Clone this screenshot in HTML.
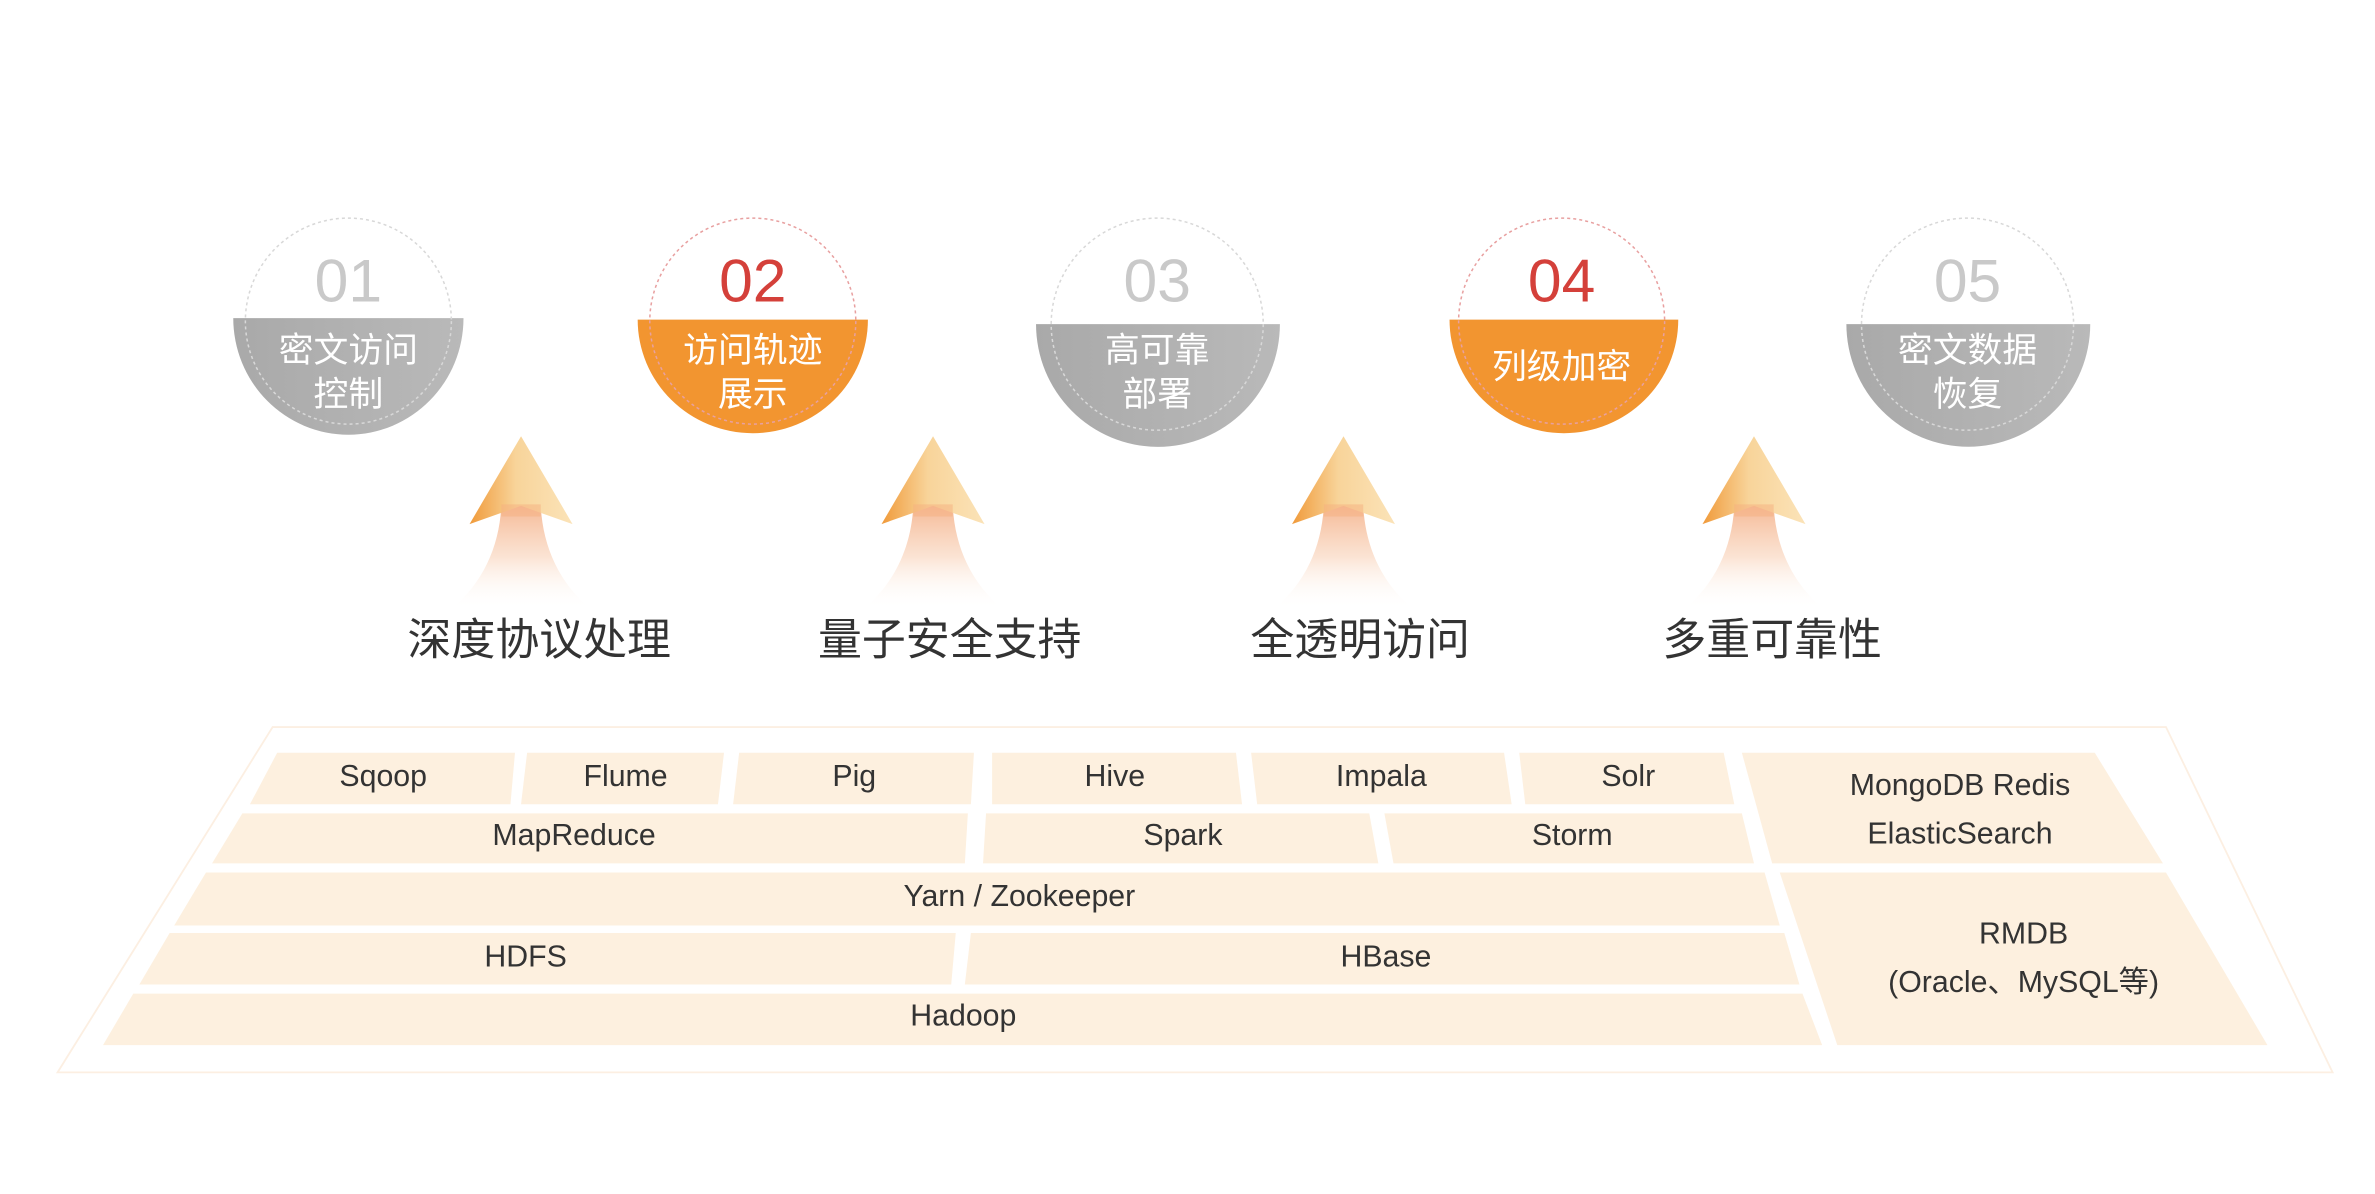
<!DOCTYPE html>
<html><head><meta charset="utf-8"><style>
html,body{margin:0;padding:0;background:#fff;}
svg{display:block;}
text{font-family:"Liberation Sans","Noto Sans CJK SC",sans-serif;}
</style></head><body>
<svg width="2375" height="1194" viewBox="0 0 1568 788.3" preserveAspectRatio="none" xmlns="http://www.w3.org/2000/svg">
<defs>
<linearGradient id="gray" x1="0" y1="0" x2="1" y2="0"><stop offset="0" stop-color="#a9a9a9"/><stop offset="1" stop-color="#b9b9b9"/></linearGradient>
<linearGradient id="ah" x1="0" y1="0" x2="1" y2="0"><stop offset="0" stop-color="#f09a3a"/><stop offset="0.45" stop-color="#f8d49a"/><stop offset="1" stop-color="#fbe3b8"/></linearGradient>
<linearGradient id="tail" x1="0" y1="0" x2="0" y2="1"><stop offset="0" stop-color="#f5b894"/><stop offset="0.5" stop-color="#fadcc8" stop-opacity="0.8"/><stop offset="1" stop-color="#fff" stop-opacity="0"/></linearGradient>
<g id="arrow">
<path d="M-13,333 L13,333 C14,360 25,385 46,402 L-46,402 C-25,385 -14,360 -13,333 Z" fill="url(#tail)"/>
<path d="M0,288 L34,346 L0,334 L-34,346 Z" fill="url(#ah)"/>
<rect x="-13" y="333" width="26" height="8" fill="#f5b080" opacity="0.5"/>
</g>
</defs>

<!-- circles -->
<g>
<path d="M154,210 L306,210 A76,77 0 0 1 154,210 Z" fill="url(#gray)"/>
<circle cx="230" cy="212" r="68" fill="none" stroke="#d8d8d8" stroke-width="1" stroke-dasharray="2,2"/>
<text x="230" y="199" font-size="40" fill="#c9c9c9" text-anchor="middle">01</text>
<text x="230" y="239" font-size="23" fill="#fff" text-anchor="middle">密文访问</text>
<text x="230" y="268" font-size="23" fill="#fff" text-anchor="middle">控制</text>

<path d="M421,211 L573,211 A76,75 0 0 1 421,211 Z" fill="#f29530"/>
<circle cx="497" cy="212" r="68" fill="none" stroke="#e8a0a0" stroke-width="1" stroke-dasharray="2,2"/>
<text x="497" y="199" font-size="40" fill="#d4403a" text-anchor="middle">02</text>
<text x="497" y="239" font-size="23" fill="#fff" text-anchor="middle">访问轨迹</text>
<text x="497" y="268" font-size="23" fill="#fff" text-anchor="middle">展示</text>

<path d="M684,214 L845,214 A80.5,81 0 0 1 684,214 Z" fill="url(#gray)"/>
<circle cx="764" cy="214" r="70" fill="none" stroke="#d8d8d8" stroke-width="1" stroke-dasharray="2,2"/>
<text x="764" y="199" font-size="40" fill="#c9c9c9" text-anchor="middle">03</text>
<text x="764" y="239" font-size="23" fill="#fff" text-anchor="middle">高可靠</text>
<text x="764" y="268" font-size="23" fill="#fff" text-anchor="middle">部署</text>

<path d="M957,211 L1108,211 A75.5,75 0 0 1 957,211 Z" fill="#f29530"/>
<circle cx="1031" cy="212" r="68" fill="none" stroke="#e8a0a0" stroke-width="1" stroke-dasharray="2,2"/>
<text x="1031" y="199" font-size="40" fill="#d4403a" text-anchor="middle">04</text>
<text x="1031" y="250" font-size="23" fill="#fff" text-anchor="middle">列级加密</text>

<path d="M1219,214 L1380,214 A80.5,81 0 0 1 1219,214 Z" fill="url(#gray)"/>
<circle cx="1299" cy="214" r="70" fill="none" stroke="#d8d8d8" stroke-width="1" stroke-dasharray="2,2"/>
<text x="1299" y="199" font-size="40" fill="#c9c9c9" text-anchor="middle">05</text>
<text x="1299" y="239" font-size="23" fill="#fff" text-anchor="middle">密文数据</text>
<text x="1299" y="268" font-size="23" fill="#fff" text-anchor="middle">恢复</text>
</g>

<!-- arrows -->
<use href="#arrow" x="344"/>
<use href="#arrow" x="616"/>
<use href="#arrow" x="887"/>
<use href="#arrow" x="1158"/>

<g font-size="29" fill="#333" text-anchor="middle">
<text x="356" y="432">深度协议处理</text>
<text x="627" y="432">量子安全支持</text>
<text x="898" y="432">全透明访问</text>
<text x="1170" y="432">多重可靠性</text>
</g>

<!-- outer border -->
<polygon points="180,480 1430,480 1540,708 38,708" fill="none" stroke="#fcefe2" stroke-width="1.2"/>

<!-- tiles -->
<g fill="#fdf0df">
<polygon points="183,497 340,497 337,531 165,531"/>
<polygon points="348,497 478,497 474,531 344,531"/>
<polygon points="488,497 643,497 641,531 484,531"/>
<polygon points="655,497 816,497 820,531 655,531"/>
<polygon points="826,497 993,497 998,531 830,531"/>
<polygon points="1003,497 1138,497 1145,531 1007,531"/>
<polygon points="1150,497 1383,497 1428,570 1170,570"/>
<polygon points="160,537 639,537 637,570 140,570"/>
<polygon points="651,537 904,537 910,570 649,570"/>
<polygon points="914,537 1150,537 1158,570 920,570"/>
<polygon points="136,576 1165,576 1175,611 115,611"/>
<polygon points="1175,576 1430,576 1497,690 1213,690"/>
<polygon points="112,616 631,616 628,650 92,650"/>
<polygon points="641,616 1178,616 1188,650 637,650"/>
<polygon points="88,656 1190,656 1203,690 68,690"/>
</g>

<g font-size="20" fill="#333" text-anchor="middle">
<text x="253" y="519">Sqoop</text>
<text x="413" y="519">Flume</text>
<text x="564" y="519">Pig</text>
<text x="736" y="519">Hive</text>
<text x="912" y="519">Impala</text>
<text x="1075" y="519">Solr</text>
<text x="1294" y="525">MongoDB  Redis</text>
<text x="1294" y="557">ElasticSearch</text>
<text x="379" y="558">MapReduce</text>
<text x="781" y="558">Spark</text>
<text x="1038" y="558">Storm</text>
<text x="673" y="598">Yarn / Zookeeper</text>
<text x="347" y="638">HDFS</text>
<text x="915" y="638">HBase</text>
<text x="636" y="677">Hadoop</text>
<text x="1336" y="623">RMDB</text>
<text x="1336" y="655">(Oracle、MySQL等)</text>
</g>
</svg>
</body></html>
